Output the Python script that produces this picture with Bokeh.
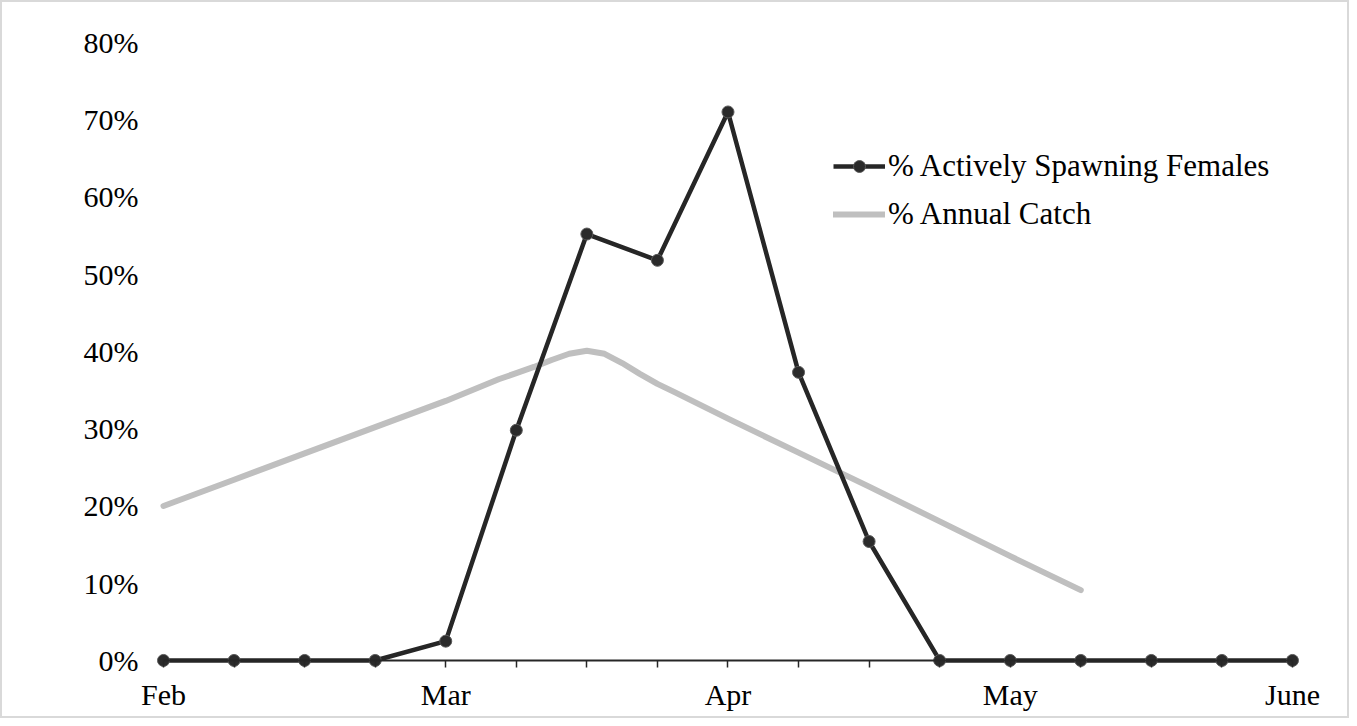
from bokeh.plotting import figure
from bokeh.models import FixedTicker, Legend, LegendItem, PrintfTickFormatter, LinearAxis
from bokeh.embed import file_html
from bokeh.resources import INLINE

# ---- data ----
month_labels = ["Feb", "Mar", "Apr", "May", "June"]
month_pos = [0, 4, 8, 12, 16]
spawn_x = list(range(17))
spawn_pct = [0, 0, 0, 0, 2.5, 29.8, 55.2, 51.8, 71.0, 37.3, 15.4, 0, 0, 0, 0, 0, 0]
catch_x = [0, 1, 2, 3, 4, 4.75, 5, 5.25, 5.5, 5.75, 6, 6.25, 6.5, 6.75, 7, 7.25, 8, 9, 10, 11, 12, 13]
catch_pct = [20.0, 23.4, 26.8, 30.2, 33.6, 36.4, 37.2, 38.0, 38.9, 39.7, 40.1, 39.7, 38.5, 37.1, 35.8, 34.7,
             31.3, 26.9, 22.5, 18.0, 13.5, 9.1]
y_ticks = [0, 10, 20, 30, 40, 50, 60, 70, 80]

FONT = "Liberation Serif"
FS = "30px"

p = figure(width=1349, height=718, output_backend="svg", toolbar_location=None,
           x_range=(-0.2126, 16.539), y_range=(-1.17, 81.55),
           min_border_left=146, min_border_right=21, min_border_top=28, min_border_bottom=51)
p.styles = {"border": "2px solid #d9d9d9", "box-sizing": "border-box"}
p.background_fill_color = "white"
p.border_fill_color = "white"
p.outline_line_color = None
p.grid.visible = False

xa = p.below[0]
ya = p.left[0]

catch_r = p.line(catch_x, catch_pct, line_color="#bfbfbf", line_width=6, line_cap="round", line_join="round")
spawn_line = p.line(spawn_x, spawn_pct, line_color="#262626", line_width=4.5, line_join="round")
spawn_pts = p.scatter(spawn_x, spawn_pct, size=12, fill_color="#2b2b2b", line_color="#5a5a5a", line_width=1)

# x axis line + ticks at the 0% level
xline = LinearAxis(fixed_location=0, bounds=(0, 16))
xline.ticker = FixedTicker(ticks=spawn_x, minor_ticks=[])
xline.major_label_overrides = {i: "" for i in spawn_x}
xline.major_label_text_font_size = "1px"
xline.axis_line_color = "#262626"
xline.axis_line_width = 2
xline.major_tick_in = 7
xline.major_tick_out = 0
xline.minor_tick_line_color = None
xline.major_tick_line_color = "#262626"
xline.major_tick_line_width = 1.5
p.add_layout(xline, "above")

# x axis month labels
xa.ticker = FixedTicker(ticks=month_pos, minor_ticks=[])
xa.major_label_overrides = {pos: lab for pos, lab in zip(month_pos, month_labels)}
xa.axis_line_color = None
xa.major_tick_line_color = None
xa.minor_tick_line_color = None
xa.major_tick_in = 0
xa.major_tick_out = 0
xa.major_label_text_font = FONT
xa.major_label_text_font_size = FS
xa.major_label_text_color = "black"
xa.major_label_standoff = 8

# y axis
ya.ticker = FixedTicker(ticks=y_ticks)
ya.formatter = PrintfTickFormatter(format="%d%%")
ya.axis_line_color = None
ya.major_tick_line_color = None
ya.minor_tick_line_color = None
ya.major_tick_in = 0
ya.major_tick_out = 0
ya.major_label_text_font = FONT
ya.major_label_text_font_size = FS
ya.major_label_text_color = "black"
ya.major_label_standoff = 10

legend = Legend(items=[
    LegendItem(label="% Actively Spawning Females", renderers=[spawn_line, spawn_pts]),
    LegendItem(label="% Annual Catch", renderers=[catch_r]),
], location=(685, 437))
legend.background_fill_alpha = 0
legend.border_line_color = None
legend.label_text_font = FONT
legend.label_text_font_size = "31px"
legend.label_text_color = "black"
legend.glyph_width = 52
legend.glyph_height = 30
legend.label_height = 30
legend.spacing = 12
legend.padding = 0
legend.margin = 0
legend.label_standoff = 3
p.add_layout(legend)

open("out.html", "w").write(file_html(p, INLINE))
